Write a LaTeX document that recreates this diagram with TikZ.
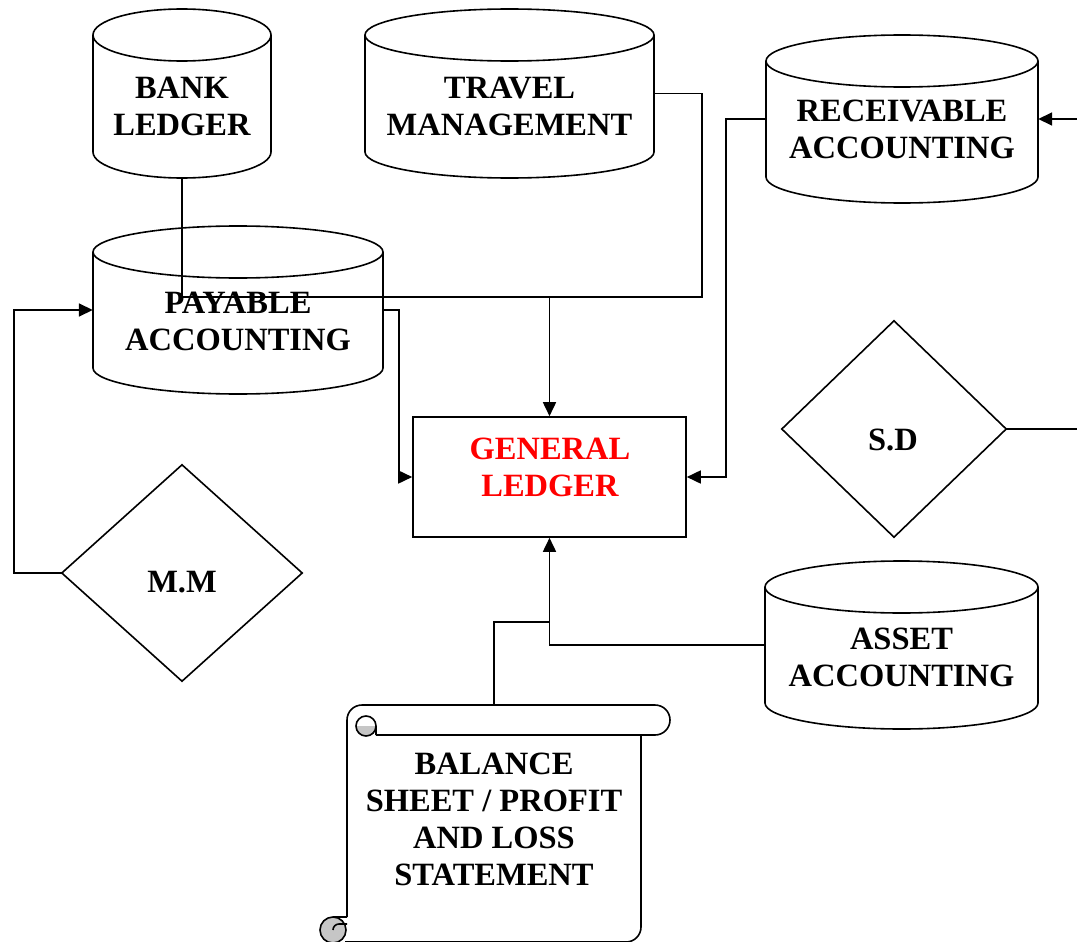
\documentclass[tikz,border=0pt]{standalone}
\usepackage{fontspec}
\setmainfont{Liberation Serif}
\usetikzlibrary{arrows.meta}
\newcommand\drawcyl[6]{%
  \node[box, minimum width={2*#5}, minimum height={#4-#3+2*#6}] (#1) at (#2,{-(#3+#4)/2}) {};
  \draw[shapeline] (#2,-#3) ellipse [x radius=#5, y radius=#6];
  \draw[shapeline] ({#2-#5},-#3) -- ({#2-#5},-#4) arc[start angle=180, end angle=360, x radius=#5, y radius=#6] -- ({#2+#5},-#3);
}
\begin{document}
\begin{tikzpicture}[x=1pt,y=1pt,
  shapeline/.style={draw=black, line width=1.6pt},
  conn/.style={draw=black, line width=1.7pt},
  arr/.style={conn, -{Triangle[length=14pt,width=13pt]}},
  lbl/.style={font=\bfseries\fontsize{32.5}{37}\selectfont, align=center, inner sep=0pt},
  box/.style={draw=none, inner sep=0pt}]
\fill[white] (0,0) rectangle (1077,-942);
\useasboundingbox (0,0) rectangle (1077,-942);
\clip (0,0) rectangle (1077,-942);

% cylinders
\drawcyl{bank}{182}{35}{152}{89}{26}
\drawcyl{travel}{509.5}{35}{152}{144.5}{26}
\drawcyl{recv}{902}{61}{177}{136}{26}
\drawcyl{pay}{238}{252}{368}{145}{26}
\drawcyl{asset}{901.5}{587}{703}{136.5}{26}

\node[lbl] (bankl) at (182,-106) {BANK\\LEDGER};
\node[lbl] (travell) at (509.5,-106) {TRAVEL\\MANAGEMENT};
\node[lbl] (recvl) at (902,-129) {RECEIVABLE\\ACCOUNTING};
\node[lbl] (payl) at (238,-321) {PAYABLE\\ACCOUNTING};
\node[lbl] (assetl) at (901.5,-657) {ASSET\\ACCOUNTING};

% general ledger
\node[shapeline, minimum width=273, minimum height=120, inner sep=0pt] (gl) at (549.5,-477) {};
\node[lbl, text=red] (gll) at (550,-467) {GENERAL\\LEDGER};

% diamonds
\node[box, minimum width=240, minimum height=216] (mm) at (182,-573) {};
\draw[shapeline] (mm.north) -- (mm.east) -- (mm.south) -- (mm.west) -- cycle;
\node[lbl] (mml) at (182,-582) {M.M};
\node[box, minimum width=224, minimum height=216] (sd) at (894,-429) {};
\draw[shapeline] (sd.north) -- (sd.east) -- (sd.south) -- (sd.west) -- cycle;
\node[lbl] (sdl) at (893,-440) {S.D};

% scroll
\node[box, minimum width=294, minimum height=234] (scroll) at (494,-822) {};
\draw[shapeline] (347,-917) -- (347,-720) arc[start angle=180, end angle=90, radius=15]
  -- (655,-705) arc[start angle=90, end angle=-90, radius=15] -- (376,-735);
\fill[gray!45] (356,-726) arc[start angle=180, end angle=360, radius=10] -- cycle;
\draw[shapeline] (376,-735) -- (376,-726) arc[start angle=0, end angle=360, radius=10];
\draw[shapeline] (641,-735) -- (641,-927) arc[start angle=0, end angle=-90, radius=15] -- (345,-942);
\fill[gray!45] (333,-930) circle[radius=13];
\draw[shapeline] (333,-930) circle[radius=13];
\draw[shapeline] (333,-917) -- (347,-917);
\draw[shapeline] (333,-930) arc[start angle=180, end angle=90, radius=6] -- (347,-924);
\node[lbl] (scrolll) at (494,-819) {BALANCE\\SHEET / PROFIT\\AND LOSS\\STATEMENT};

% connectors
\coordinate (j1) at (549.5,-297);
\coordinate (j2) at (702,-297);
\coordinate (p1) at (399,-310);
\coordinate (m1) at (14,-573);
\coordinate (r1) at (726,-119);
\coordinate (rin) at (1080,-119);
\coordinate (sout) at (1080,-429);
\coordinate (a1) at (549.5,-622);
\draw[conn] (bank.south) |- (j1);
\draw[conn] (travel.east) -| (j2) -- (j1);
\draw[arr] (j1) -- (gl.north);
\draw[arr] (pay.east) -- (p1) |- (gl.west);
\draw[arr] (mm.west) -- (m1) |- (pay.west);
\draw[arr] (recv.west) -- (r1) |- (gl.east);
\draw[arr] (rin) -- (recv.east);
\draw[conn] (sd.east) -- (sout);
\draw[arr] (asset.west) -| (gl.south);
\draw[conn] (scroll.north) |- (a1);
\end{tikzpicture}
\end{document}
